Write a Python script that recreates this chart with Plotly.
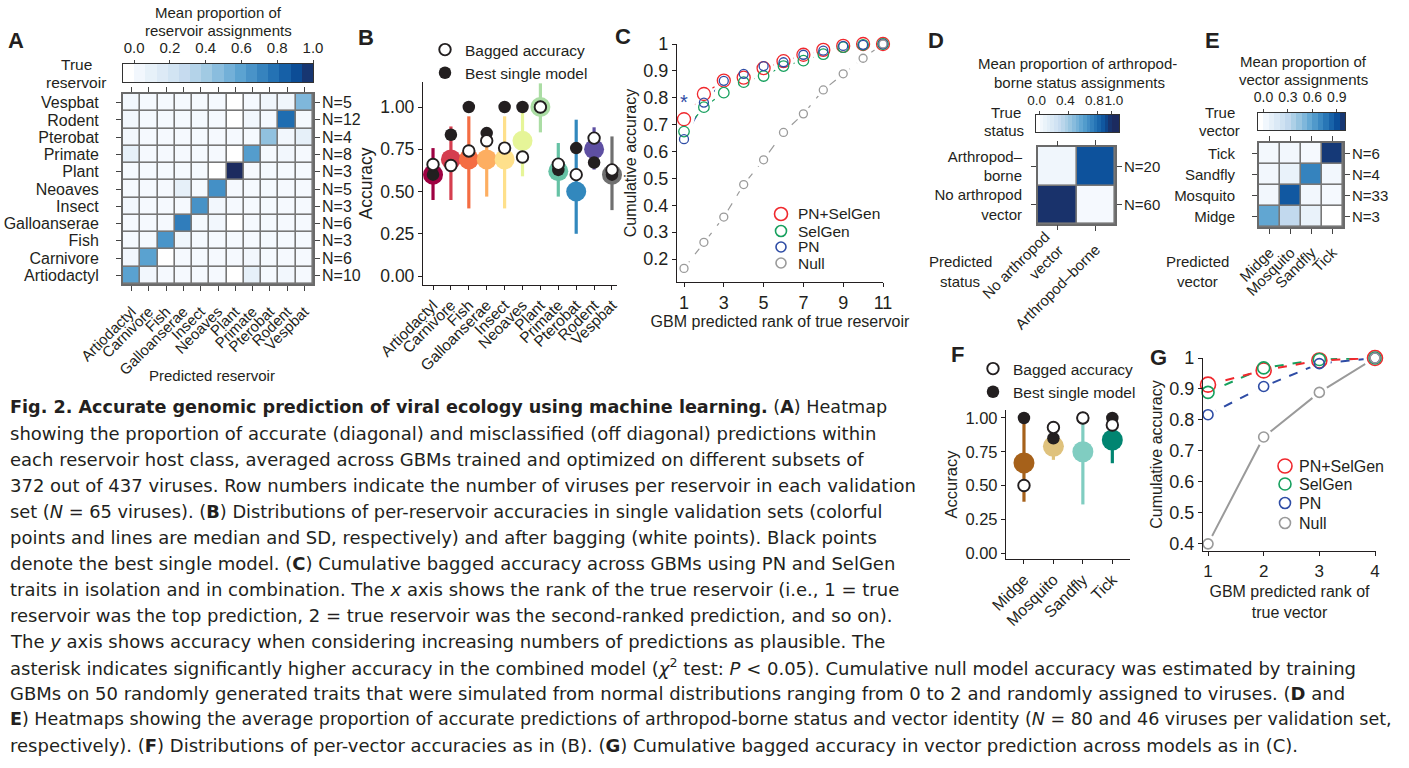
import numpy as np
import plotly.graph_objects as go

W, H = 1409, 768
FONT = "Liberation Sans, Arial, Helvetica, sans-serif"
CAPFONT = "DejaVu Sans, Open Sans, Liberation Sans, Arial, sans-serif"
TXT = "#231f20"

# ---------------- data ----------------
# Panel A: reservoir heatmap (rows = true reservoir, cols = predicted reservoir)
res_names = ["Artiodactyl", "Carnivore", "Fish", "Galloanserae", "Insect", "Neoaves",
             "Plant", "Primate", "Pterobat", "Rodent", "Vespbat"]
res_n = ["N=10", "N=6", "N=3", "N=6", "N=3", "N=5", "N=3", "N=8", "N=4", "N=12", "N=5"]
res_artiodactyl = [0.60, 0.03, 0.01, 0.01, 0.01, 0.01, 0.00, 0.10, 0.01, 0.03, 0.01]
res_carnivore   = [0.03, 0.60, 0.00, 0.01, 0.01, 0.01, 0.01, 0.03, 0.01, 0.01, 0.01]
res_fish        = [0.01, 0.01, 0.65, 0.04, 0.01, 0.01, 0.01, 0.01, 0.01, 0.01, 0.01]
res_gallo       = [0.01, 0.01, 0.01, 0.74, 0.01, 0.03, 0.00, 0.01, 0.01, 0.01, 0.01]
res_insect      = [0.03, 0.01, 0.01, 0.01, 0.66, 0.03, 0.01, 0.01, 0.01, 0.01, 0.01]
res_neoaves     = [0.01, 0.01, 0.01, 0.10, 0.01, 0.67, 0.01, 0.01, 0.01, 0.01, 0.01]
res_plant       = [0.01, 0.01, 0.01, 0.01, 0.01, 0.00, 1.00, 0.01, 0.01, 0.01, 0.01]
res_primate     = [0.10, 0.01, 0.01, 0.01, 0.01, 0.01, 0.00, 0.62, 0.01, 0.03, 0.01]
res_pterobat    = [0.03, 0.01, 0.01, 0.01, 0.01, 0.01, 0.01, 0.01, 0.45, 0.03, 0.10]
res_rodent      = [0.03, 0.01, 0.01, 0.01, 0.01, 0.01, 0.00, 0.03, 0.01, 0.80, 0.01]
res_vespbat     = [0.03, 0.01, 0.01, 0.01, 0.01, 0.01, 0.00, 0.01, 0.04, 0.04, 0.50]
res_matrix = [res_artiodactyl, res_carnivore, res_fish, res_gallo, res_insect, res_neoaves,
              res_plant, res_primate, res_pterobat, res_rodent, res_vespbat]
res_cb_ticks = [0.0, 0.2, 0.4, 0.6, 0.8, 1.0]
res_cb_text = ["0.0", "0.2", "0.4", "0.6", "0.8", "1.0"]

# Panel B: per-reservoir accuracies
res_median = [0.60, 0.69, 0.69, 0.69, 0.69, 0.80, 1.00, 0.62, 0.50, 0.75, 0.60]
res_sd_lo  = [0.45, 0.45, 0.40, 0.47, 0.40, 0.59, 0.85, 0.47, 0.25, 0.63, 0.39]
res_sd_hi  = [0.757, 0.885, 0.945, 0.826, 0.945, 0.984, 1.14, 0.787, 0.925, 0.88, 0.826]
res_bagged = [0.66, 0.654, 0.74, 0.80, 0.757, 0.704, 1.00, 0.662, 0.60, 0.816, 0.628]
res_best   = [0.60, 0.836, 1.00, 0.846, 1.00, 1.00, 1.00, 0.628, 0.757, 0.672, 0.60]
res_colors = ["#9e0142", "#d53e4f", "#f46d43", "#fdae61", "#fee08b", "#e6f598",
              "#abdda4", "#66c2a5", "#3288bd", "#5e4fa2", "#707070"]
acc_ticks = [0.0, 0.25, 0.5, 0.75, 1.0]
acc_text = ["0.00", "0.25", "0.50", "0.75", "1.00"]

# Panel C: cumulative accuracy, reservoir
rank_res = [1, 2, 3, 4, 5, 6, 7, 8, 9, 10, 11]
c_pnsel = [0.72, 0.814, 0.864, 0.875, 0.91, 0.936, 0.96, 0.978, 0.993, 1.0, 1.0]
c_sel   = [0.674, 0.765, 0.819, 0.858, 0.881, 0.918, 0.938, 0.962, 0.988, 0.997, 1.0]
c_pn    = [0.646, 0.782, 0.863, 0.889, 0.918, 0.932, 0.96, 0.975, 0.993, 0.997, 1.0]
c_null  = [0.165, 0.262, 0.356, 0.477, 0.569, 0.671, 0.74, 0.829, 0.889, 0.947, 1.0]
c_xticks = [1, 3, 5, 7, 9, 11]
c_yticks = [0.2, 0.3, 0.4, 0.5, 0.6, 0.7, 0.8, 0.9, 1.0]
c_ytext = ["0.2", "0.3", "0.4", "0.5", "0.6", "0.7", "0.8", "0.9", "1"]
model_names = ["PN+SelGen", "SelGen", "PN", "Null"]
model_colors = ["#f0282d", "#17a05e", "#2e4ca5", "#9a9a9a"]

# Panel D: arthropod-borne status heatmap
status_cols = ["No arthropod<br>vector", "Arthropod–borne"]
status_rows = ["No arthropod<br>vector", "Arthropod–<br>borne"]
status_n = ["N=60", "N=20"]
status_none = [0.98, 0.01]
status_arth = [0.04, 0.89]
status_matrix = [status_none, status_arth]
status_cb_ticks = [0.0, 0.4, 0.8, 1.0]
status_cb_text = ["0.0", "0.4", "0.8", "1.0"]

# Panel E: vector heatmap
vec_names = ["Midge", "Mosquito", "Sandfly", "Tick"]
vec_n = ["N=3", "N=33", "N=4", "N=6"]
vec_midge    = [0.58, 0.30, 0.08, 0.00]
vec_mosquito = [0.03, 0.87, 0.03, 0.01]
vec_sandfly  = [0.03, 0.08, 0.72, 0.03]
vec_tick     = [0.02, 0.03, 0.01, 0.96]
vec_matrix = [vec_midge, vec_mosquito, vec_sandfly, vec_tick]
vec_cb_ticks = [0.0, 0.3, 0.6, 0.9]
vec_cb_text = ["0.0", "0.3", "0.6", "0.9"]

# Panel F: per-vector accuracies
vec_median = [0.667, 0.79, 0.75, 0.837]
vec_sd_lo  = [0.38, 0.69, 0.36, 0.665]
vec_sd_hi  = [1.0, 0.86, 0.96, 1.0]
vec_bagged = [0.5, 0.93, 1.0, 0.948]
vec_best   = [1.0, 0.85, 1.0, 1.0]
vec_colors = ["#a6611a", "#dfc27d", "#80cdc1", "#018571"]

# Panel G: cumulative accuracy, vector
rank_vec = [1, 2, 3, 4]
g_pnsel = [0.914, 0.96, 0.992, 1.0]
g_sel   = [0.889, 0.968, 0.995, 1.0]
g_pn    = [0.817, 0.908, 0.982, 1.0]
g_null  = [0.40, 0.745, 0.889, 1.0]
g_yticks = [0.4, 0.5, 0.6, 0.7, 0.8, 0.9, 1.0]
g_ytext = ["0.4", "0.5", "0.6", "0.7", "0.8", "0.9", "1"]

caption_lines = [
    "<b>Fig. 2. Accurate genomic prediction of viral ecology using machine learning.</b> (<b>A</b>) Heatmap",
    "showing the proportion of accurate (diagonal) and misclassified (off diagonal) predictions within",
    "each reservoir host class, averaged across GBMs trained and optimized on different subsets of",
    "372 out of 437 viruses. Row numbers indicate the number of viruses per reservoir in each validation",
    "set (<i>N</i> = 65 viruses). (<b>B</b>) Distributions of per-reservoir accuracies in single validation sets (colorful",
    "points and lines are median and SD, respectively) and after bagging (white points). Black points",
    "denote the best single model. (<b>C</b>) Cumulative bagged accuracy across GBMs using PN and SelGen",
    "traits in isolation and in combination. The <i>x</i> axis shows the rank of the true reservoir (i.e., 1 = true",
    "reservoir was the top prediction, 2 = true reservoir was the second-ranked prediction, and so on).",
    "The <i>y</i> axis shows accuracy when considering increasing numbers of predictions as plausible. The",
    "asterisk indicates significantly higher accuracy in the combined model (<i>χ</i><sup>2</sup> test: <i>P</i> &lt; 0.05). Cumulative null model accuracy was estimated by training",
    "GBMs on 50 randomly generated traits that were simulated from normal distributions ranging from 0 to 2 and randomly assigned to viruses. (<b>D</b> and",
    "<b>E</b>) Heatmaps showing the average proportion of accurate predictions of arthropod-borne status and vector identity (<i>N</i> = 80 and 46 viruses per validation set,",
    "respectively). (<b>F</b>) Distributions of per-vector accuracies as in (B). (<b>G</b>) Cumulative bagged accuracy in vector prediction across models as in (C).",
]
caption_sizes = [17.6, 18, 18, 18, 17.8, 18, 18, 18, 18, 18, 18, 18, 17.5, 18]

# ---------------- helpers ----------------
def px(x): return x / W
def py(y): return 1 - y / H
def dx(a, b): return [a / W, b / W]
def dy(a, b): return [1 - b / H, 1 - a / H]

blues = [[0.0, "#ffffff"], [0.005, "#f6fafe"], [0.1, "#e6f0f9"], [0.2, "#d6e6f4"],
         [0.3, "#c2d9ee"], [0.4, "#a3cbe3"], [0.5, "#7fb7db"], [0.6, "#5aa2d0"],
         [0.7, "#3b88c1"], [0.8, "#1f6db1"], [0.9, "#0b4f9a"], [1.0, "#1c2b5f"]]

fig = go.Figure()
annotations = []
shapes = []
layout = {}

def text(x, y, s, size=15, xanchor="center", yanchor="middle", color=TXT, family=FONT, **kw):
    annotations.append(dict(x=px(x), y=py(y), xref="paper", yref="paper", text=s,
                            showarrow=False, xanchor=xanchor, yanchor=yanchor,
                            font=dict(size=size, color=color, family=family), **kw))

def tf(size):
    return dict(family=FONT, size=size, color=TXT)

def add_heatmap(z, xa, ya):
    nr, nc = len(z), len(z[0])
    fig.add_trace(go.Heatmap(z=z, x=list(range(nc)), y=list(range(nr)), coloraxis="coloraxis",
                             xgap=1.6, ygap=1.6, xaxis=xa, yaxis=ya, hoverinfo="skip"))
    shapes.append(dict(type="rect", xref=xa, yref=ya, x0=-0.5, x1=nc - 0.5, y0=-0.5, y1=nr - 0.5,
                       fillcolor="#777777", line=dict(width=0), layer="below"))

def add_colorbar(levels, xa, ya):
    fig.add_trace(go.Heatmap(z=[list(np.clip(levels, 0, 1))], x=list(levels), y=[0],
                             coloraxis="coloraxis", xaxis=xa, yaxis=ya, hoverinfo="skip"))

def anchor_trace(xa, ya, x, y):
    # invisible trace so that an overlaying label axis gets drawn
    fig.add_trace(go.Scatter(x=[x], y=[y], xaxis=xa, yaxis=ya, mode="markers",
                             marker=dict(size=1, opacity=0), showlegend=False, hoverinfo="skip"))

HM_COMMON = dict(ticks="outside", ticklen=5, tickwidth=1, tickcolor="#444", showline=True,
                 linecolor="#6a6a6a", linewidth=2, mirror="ticks", showgrid=False,
                 zeroline=False, automargin=False)

def hm_axes(xkey, ykey, xdom, ydom, xnames, ynames, xfs, yfs, xstand, ystand, xtv=None):
    xa_id, ya_id = xkey.replace("axis", ""), ykey.replace("axis", "")
    xtv = list(range(len(xnames))) if xtv is None else xtv
    layout[xkey] = dict(domain=xdom, anchor=ya_id, range=[-0.5, len(xnames) - 0.5],
                        tickmode="array", tickvals=xtv, ticktext=[xnames[i] for i in xtv],
                        tickangle=-45, tickfont=tf(xfs), ticklabelstandoff=xstand, **HM_COMMON)
    layout[ykey] = dict(domain=ydom, anchor=xa_id, range=[-0.5, len(ynames) - 0.5],
                        tickmode="array", tickvals=list(range(len(ynames))), ticktext=ynames,
                        tickfont=tf(yfs), ticklabelstandoff=ystand, **HM_COMMON)

def cb_axes(xkey, ykey, xdom, ydom, rng, tv, tt, fs=15, shift=0):
    xa_id, ya_id = xkey.replace("axis", ""), ykey.replace("axis", "")
    layout[xkey] = dict(domain=xdom, anchor=ya_id, range=rng, side="top", tickmode="array",
                        tickvals=tv, ticktext=tt, ticks="outside", ticklen=3, tickcolor="#444",
                        showline=True, linecolor="#333", linewidth=1, mirror=True, tickangle=0,
                        showgrid=False, zeroline=False, tickfont=tf(fs), ticklabelstandoff=1,
                        ticklabelshift=shift, automargin=False)
    layout[ykey] = dict(domain=ydom, anchor=xa_id, range=[-0.5, 0.5], showticklabels=False,
                        ticks="", showline=True, linecolor="#333", linewidth=1, mirror=True,
                        showgrid=False, zeroline=False, automargin=False)

def n_labels(xa, ya, labels, size):
    for i, s in enumerate(labels):
        annotations.append(dict(x=1, y=i, xref=xa + " domain", yref=ya, text=s, showarrow=False,
                                xanchor="left", yanchor="middle", xshift=7, font=tf(size)))

def dot_panel(xa, ya, med, lo, hi, bag, best, cols, legend, msize):
    for i in range(len(med)):
        fig.add_trace(go.Scatter(
            x=[i], y=[med[i]], mode="markers", xaxis=xa, yaxis=ya, showlegend=False,
            marker=dict(size=msize, color=cols[i], line=dict(width=0)), cliponaxis=False,
            error_y=dict(type="data", symmetric=False, array=[hi[i] - med[i]],
                         arrayminus=[med[i] - lo[i]], width=0, thickness=3.2, color=cols[i]),
            hoverinfo="skip"))
    fig.add_trace(go.Scatter(x=list(range(len(best))), y=best, mode="markers", xaxis=xa, yaxis=ya,
                             name="Best single model", legend=legend, legendrank=2,
                             marker=dict(size=12.5, color=TXT, line=dict(width=0)), cliponaxis=False))
    fig.add_trace(go.Scatter(x=list(range(len(bag))), y=bag, mode="markers", xaxis=xa, yaxis=ya,
                             name="Bagged accuracy", legend=legend, legendrank=1,
                             marker=dict(size=11.5, color="white", line=dict(width=1.9, color=TXT)),
                             cliponaxis=False))

def cum_panel(xa, ya, x, series, sizes, dashes, lw, ringw):
    for s, c, d in zip(series[::-1], model_colors[::-1], dashes[::-1]):
        fig.add_trace(go.Scatter(x=x, y=s, mode="lines", xaxis=xa, yaxis=ya, showlegend=False,
                                 line=dict(color=c, width=lw, dash=d), cliponaxis=False, hoverinfo="skip"))
    for s, sz in zip(series, sizes):
        fig.add_trace(go.Scatter(x=x, y=s, mode="markers", xaxis=xa, yaxis=ya, showlegend=False,
                                 marker=dict(size=sz + 8, color="white", line=dict(width=0)),
                                 cliponaxis=False, hoverinfo="skip"))
    for s, c, sz, nm in zip(series, model_colors, sizes, model_names):
        fig.add_trace(go.Scatter(x=x, y=s, mode="markers", xaxis=xa, yaxis=ya, showlegend=False,
                                 name=nm, marker=dict(size=sz, symbol="circle-open", color=c,
                                                      line=dict(width=ringw, color=c)),
                                 cliponaxis=False))

def manual_legend(x_marker, x_text, ys, radii, size):
    for nm, c, y, r in zip(model_names, model_colors, ys, radii):
        shapes.append(dict(type="circle", xref="paper", yref="paper", xsizemode="pixel",
                           ysizemode="pixel", xanchor=px(x_marker), yanchor=py(y),
                           x0=-r, x1=r, y0=-r, y1=r, line=dict(color=c, width=1.6),
                           fillcolor="rgba(0,0,0,0)"))
        text(x_text, y, nm, size=size, xanchor="left")

def xy_axes(xkey, ykey, xdom, ydom, xr, yr, xtv, xtt, ytv, ytt, xfs, yfs, xangle=0,
            xtitle=None, ytitle=None, xts=16, yts=16, xstand=0, ystand=2):
    xa_id, ya_id = xkey.replace("axis", ""), ykey.replace("axis", "")
    common = dict(ticks="outside", ticklen=4, tickwidth=1.2, tickcolor=TXT, showline=True,
                  linecolor=TXT, linewidth=1.3, showgrid=False, zeroline=False, automargin=False)
    layout[xkey] = dict(domain=xdom, anchor=ya_id, range=xr, tickmode="array", tickvals=xtv,
                        ticktext=xtt, tickangle=xangle, tickfont=tf(xfs), **common)
    layout[ykey] = dict(domain=ydom, anchor=xa_id, range=yr, tickmode="array", tickvals=ytv,
                        ticktext=ytt, tickfont=tf(yfs), **common)
    if xtitle:
        layout[xkey]["title"] = dict(text=xtitle, font=tf(xts), standoff=xstand)
    if ytitle:
        layout[ykey]["title"] = dict(text=ytitle, font=tf(yts), standoff=ystand)

# ---------------- Panel A ----------------
add_heatmap(res_matrix, "x", "y")
hm_axes("xaxis", "yaxis", dx(123, 313), dy(94, 284), res_names, res_names, 15, 16, 6, 14)
add_colorbar((np.arange(17) - 0.5) / 16, "x2", "y2")
cb_axes("xaxis2", "yaxis2", dx(123, 313), dy(64, 82), [-0.0625, 1.0], res_cb_ticks, res_cb_text)
n_labels("x", "y", res_n, 16)
text(218, 12, "Mean proportion of")
text(218, 30, "reservoir assignments")
text(76, 64, "True", size=15.5)
text(76, 83, "reservoir", size=15.5)
text(212, 375, "Predicted reservoir")

# ---------------- Panel B ----------------
dot_panel("x3", "y3", res_median, res_sd_lo, res_sd_hi, res_bagged, res_best, res_colors, "legend", 20)
xy_axes("xaxis3", "yaxis3", dx(423, 617), dy(82, 285), [-0.56, 10.28], [-0.053, 1.148],
        list(range(11)), res_names, acc_ticks, acc_text, 15.5, 17.5, xangle=-45,
        ytitle="Accuracy", yts=17.5, ystand=3)

# ---------------- Panel C ----------------
cum_panel("x4", "y4", rank_res, [c_pnsel, c_sel, c_pn, c_null], [13, 10.5, 9, 8],
          ["dash", "dash", "dash", "dash"], 1.2, 1.3)
xy_axes("xaxis4", "yaxis4", dx(677, 883), dy(44, 282), [0.648, 11.0], [0.1144, 1.0],
        c_xticks, [str(v) for v in c_xticks], c_yticks, c_ytext, 18, 18,
        xtitle="GBM predicted rank of true reservoir", ytitle="Cumulative accuracy",
        xts=16, yts=16, xstand=0, ystand=2)
manual_legend(781, 796, [214, 231, 247, 263], [6.5, 5.5, 5, 5], 15.5)
annotations.append(dict(x=1, y=0.8, xref="x4", yref="y4", text="*", showarrow=False,
                        font=dict(family=FONT, size=20, color=model_colors[2]), yshift=-4))

# ---------------- Panel D ----------------
add_heatmap(status_matrix, "x5", "y5")
hm_axes("xaxis5", "yaxis5", dx(1038, 1115), dy(147, 224), status_cols, status_rows, 15, 15, 4, 6,
        xtv=[1])
# the two-line label of the first column is stacked up-left of its tick (separate overlay axis)
layout["xaxis12"] = dict(domain=dx(1038, 1115), anchor="y5", overlaying="x5", range=[-0.5, 1.5],
                         tickmode="array", tickvals=[0], ticktext=[status_cols[0]], tickangle=-45,
                         tickfont=tf(15), ticklabelstandoff=-8, ticklabelshift=-12,
                         ticks="outside", ticklen=5, tickwidth=1, tickcolor="#444",
                         showline=False, mirror="ticks", showgrid=False, zeroline=False,
                         automargin=False)
anchor_trace("x12", "y5", 0, 0)
add_colorbar(np.arange(-0.025, 1.1, 0.05), "x6", "y6")
cb_axes("xaxis6", "yaxis6", dx(1036, 1119), dy(115, 132), [-0.05, 1.10], status_cb_ticks[:3],
        status_cb_text[:3], fs=13.5, shift=-3)
layout["xaxis11"] = dict(domain=dx(1036, 1119), anchor="y6", overlaying="x6", range=[-0.05, 1.10],
                         side="top", tickmode="array", tickvals=status_cb_ticks[3:],
                         ticktext=status_cb_text[3:], ticks="outside", ticklen=3, tickcolor="#444",
                         showline=False, tickangle=0, showgrid=False, zeroline=False,
                         tickfont=tf(13.5), ticklabelstandoff=1, ticklabelshift=2, automargin=False)
anchor_trace("x11", "y6", 1.0, 0)
n_labels("x5", "y5", status_n, 15)
text(1077, 63, "Mean proportion of arthropod-")
text(1079, 83, "borne status assignments")
text(1006, 112, "True")
text(1004, 131, "status")
text(960, 261, "Predicted")
text(960, 281, "status")

# ---------------- Panel E ----------------
add_heatmap(vec_matrix, "x7", "y7")
hm_axes("xaxis7", "yaxis7", dx(1259, 1343), dy(143, 227), vec_names, vec_names, 15, 15, 4, 14)
add_colorbar((np.arange(16) - 0.5) / 15, "x8", "y8")
cb_axes("xaxis8", "yaxis8", dx(1258, 1345), dy(113, 130), [-1 / 15, 1.0], vec_cb_ticks,
        vec_cb_text, fs=14)
n_labels("x7", "y7", vec_n, 15)
text(1303, 62, "Mean proportion of")
text(1303, 80, "vector assignments")
text(1220, 113, "True")
text(1219, 131, "vector")
text(1197, 262, "Predicted")
text(1197, 281, "vector")

# ---------------- Panel F ----------------
dot_panel("x9", "y9", vec_median, vec_sd_lo, vec_sd_hi, vec_bagged, vec_best, vec_colors, "legend2", 21)
xy_axes("xaxis9", "yaxis9", dx(1006, 1130), dy(410, 559), [-0.61, 3.6], [-0.044, 1.059],
        list(range(4)), vec_names, acc_ticks, acc_text, 16, 16.5, xangle=-45,
        ytitle="Accuracy", yts=16.5, ystand=3)

# ---------------- Panel G ----------------
cum_panel("x10", "y10", rank_vec, [g_pnsel, g_sel, g_pn, g_null], [15, 12, 10, 10],
          ["dash", "dash", "dash", "solid"], 2, 1.6)
xy_axes("xaxis10", "yaxis10", dx(1203, 1376), dy(358, 551), [0.91, 4.018], [0.377, 1.0],
        rank_vec, [str(v) for v in rank_vec], g_yticks, g_ytext, 17, 18,
        xtitle="GBM predicted rank of<br>true vector", ytitle="Cumulative accuracy",
        xts=16, yts=16, xstand=6, ystand=2)
manual_legend(1285, 1297, [466, 484, 503, 523], [7, 6, 5.5, 5.5], 16)

# ---------------- Panel letters ----------------
for lab, x, y in [("A", 16, 40), ("B", 366, 37), ("C", 623, 36), ("D", 936, 40),
                  ("E", 1212, 40), ("F", 958, 354), ("G", 1158, 357)]:
    text(x, y, "<b>%s</b>" % lab, size=22, color="#231f20")

# ---------------- Caption ----------------
for i, (line, sz) in enumerate(zip(caption_lines, caption_sizes)):
    text(8, 407 + 26 * i, line, size=sz, xanchor="left", family=CAPFONT)

layout.update(dict(
    width=W, height=H, margin=dict(l=0, r=0, t=0, b=0, pad=0, autoexpand=False),
    paper_bgcolor="white", plot_bgcolor="white", font=dict(family=FONT, color=TXT),
    coloraxis=dict(colorscale=blues, cmin=0, cmax=1, showscale=False),
    legend=dict(x=px(425), y=py(33), xanchor="left", yanchor="top", bgcolor="rgba(0,0,0,0)",
                font=tf(15.5), tracegroupgap=0),
    legend2=dict(x=px(973), y=py(352), xanchor="left", yanchor="top", bgcolor="rgba(0,0,0,0)",
                 font=tf(15.5), tracegroupgap=0),
    annotations=annotations, shapes=shapes, hovermode=False,
))
fig.update_layout(**layout)
fig.write_html("out.html", config={"displayModeBar": False},
               post_script="document.body.style.margin='0';")
